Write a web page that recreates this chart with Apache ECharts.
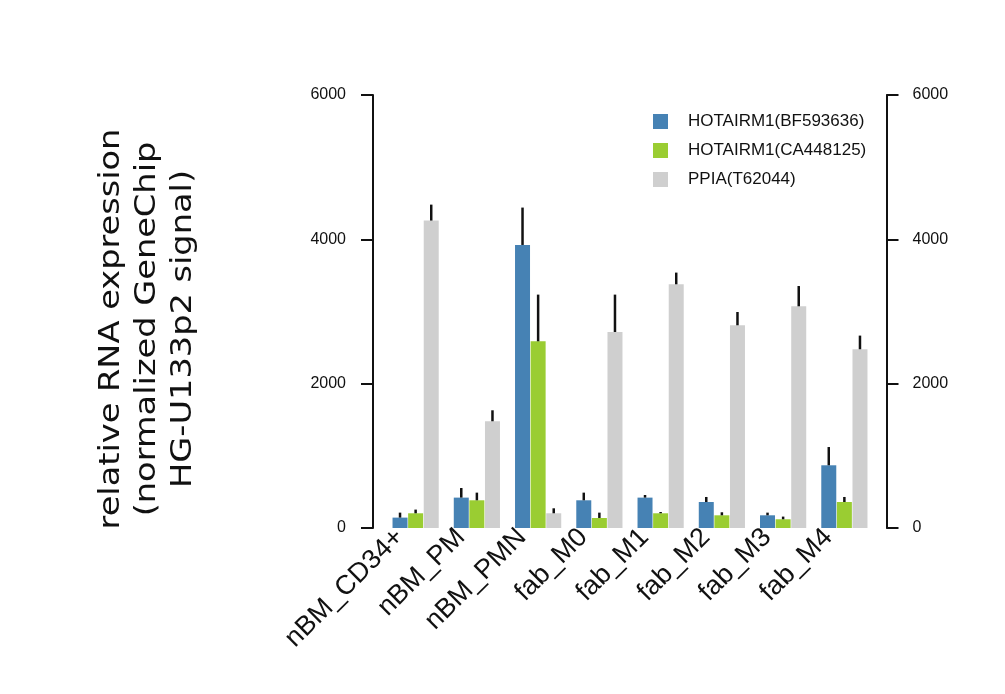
<!DOCTYPE html>
<html>
<head>
<meta charset="utf-8">
<script src="https://cdn.jsdelivr.net/npm/echarts@6/dist/echarts.min.js"></script>
<style>
html,body{margin:0;padding:0;background:#fff;}
#chart{width:1005px;height:694px;}
</style>
</head>
<body>
<div id="chart"></div>
<script>
// ---- data ----
const categories = ['nBM_CD34+', 'nBM_PM', 'nBM_PMN', 'fab_M0', 'fab_M1', 'fab_M2', 'fab_M3', 'fab_M4'];
const seriesNames = ['HOTAIRM1(BF593636)', 'HOTAIRM1(CA448125)', 'PPIA(T62044)'];
const bf593636 = [144, 421, 3922, 384, 421, 360, 176, 869];
const bf593636Err = [69, 133, 518, 106, 36, 70, 37, 253];
const ca448125 = [204, 384, 2587, 139, 204, 176, 121, 360];
const ca448125Err = [51, 106, 647, 74, 18, 42, 37, 70];
const ppia = [4260, 1479, 204, 2716, 3377, 2809, 3072, 2477];
const ppiaErr = [221, 152, 69, 518, 162, 184, 281, 189];
const yTicks = [0, 2000, 4000, 6000];
const yTitle = ['relative RNA expression', '(normalized GeneChip', 'HG-U133p2 signal)'];

// ---- style ----
const colors = ['#4682B4', '#9ACD32', '#CFCFCF'];
const BAR_W = 15;
const BAR_GAP_PCT = 4;
const BAR_GAP_PX = BAR_W * BAR_GAP_PCT / 100;
const LABEL_SHIFT = 16; // category labels sit a little left of their groups
const labelFont = '"Liberation Sans", Arial, sans-serif';

const chart = echarts.init(document.getElementById('chart'), null, {renderer: 'canvas'});

const valueSets = [bf593636, ca448125, ppia];
const errSets = [bf593636Err, ca448125Err, ppiaErr];

const barSeries = valueSets.map((vals, k) => ({
  type: 'bar',
  name: seriesNames[k],
  xAxisIndex: 0,
  yAxisIndex: 0,
  data: vals,
  barWidth: BAR_W,
  barGap: BAR_GAP_PCT + '%',
  itemStyle: {color: colors[k]},
  z: 2
}));

const errSeries = valueSets.map((vals, k) => ({
  type: 'custom',
  name: 'err' + k,
  xAxisIndex: 0,
  yAxisIndex: 0,
  silent: true,
  z: 5,
  data: vals.map((v, i) => [i, v, v + errSets[k][i]]),
  encode: {x: 0, y: [1, 2]},
  renderItem: function (params, api) {
    const base = api.coord([api.value(0), api.value(1)]);
    const top = api.coord([api.value(0), api.value(2)]);
    const dx = (k - 1) * (BAR_W + BAR_GAP_PX);
    return {
      type: 'line',
      shape: {x1: base[0] + dx, y1: base[1], x2: top[0] + dx, y2: top[1]},
      style: {stroke: '#111', lineWidth: 2.5}
    };
  }
}));

const yAxisCommon = {
  type: 'value',
  min: yTicks[0],
  max: yTicks[yTicks.length - 1],
  interval: yTicks[1] - yTicks[0],
  splitLine: {show: false},
  axisLine: {show: true, lineStyle: {color: '#111', width: 2}},
  axisTick: {show: true, inside: false, length: 12, lineStyle: {color: '#111', width: 2}},
};
const tickFmt = v => String(v);

const option = {
  backgroundColor: '#fff',
  animation: false,
  grid: [
    {left: 385, right: 130, top: 95, bottom: 166, containLabel: false, outerBoundsMode: 'none'},
    {left: 385 - LABEL_SHIFT, right: 130 + LABEL_SHIFT, top: 95, bottom: 166, containLabel: false, outerBoundsMode: 'none'}
  ],
  legend: {
    data: seriesNames,
    orient: 'vertical',
    left: 653,
    top: 113,
    padding: 0,
    icon: 'rect',
    itemWidth: 15,
    itemHeight: 15,
    itemGap: 12,
    textStyle: {fontSize: 17, fontFamily: labelFont, color: '#111', lineHeight: 16, padding: [0, 0, 0, 15]}
  },
  xAxis: [
    {
      type: 'category',
      gridIndex: 0,
      data: categories,
      boundaryGap: true,
      axisLine: {show: false},
      axisTick: {show: false},
      axisLabel: {show: false}
    },
    {
      type: 'category',
      gridIndex: 1,
      data: categories,
      boundaryGap: true,
      axisLine: {show: false},
      axisTick: {show: false},
      splitLine: {show: false},
      axisLabel: {
        interval: 0,
        rotate: 45,
        margin: 5,
        fontSize: 27,
        fontFamily: labelFont,
        color: '#111'
      }
    }
  ],
  yAxis: [
    Object.assign({}, yAxisCommon, {
      gridIndex: 0,
      position: 'left',
      offset: 12,
      axisLabel: {margin: 27, fontSize: 16, fontFamily: labelFont, color: '#111', padding: [5, 0, 0, 0], formatter: tickFmt}
    }),
    Object.assign({}, yAxisCommon, {
      gridIndex: 0,
      position: 'right',
      offset: 11.5,
      axisLabel: {margin: 26, fontSize: 16, fontFamily: labelFont, color: '#111', padding: [5, 0, 0, 0], formatter: tickFmt}
    }),
    {
      type: 'value',
      gridIndex: 1,
      show: false,
      min: yTicks[0],
      max: yTicks[yTicks.length - 1]
    }
  ],
  graphic: [{
    type: 'text',
    x: 148,
    y: 329,
    rotation: Math.PI / 2,
    scaleX: 1.2,
    style: {
      text: yTitle.join('\n'),
      font: '28px "DejaVu Sans"',
      fill: '#111',
      align: 'center',
      verticalAlign: 'middle',
      lineHeight: 36
    }
  }],
  series: barSeries.concat(errSeries)
};

chart.setOption(option);
</script>
</body>
</html>
